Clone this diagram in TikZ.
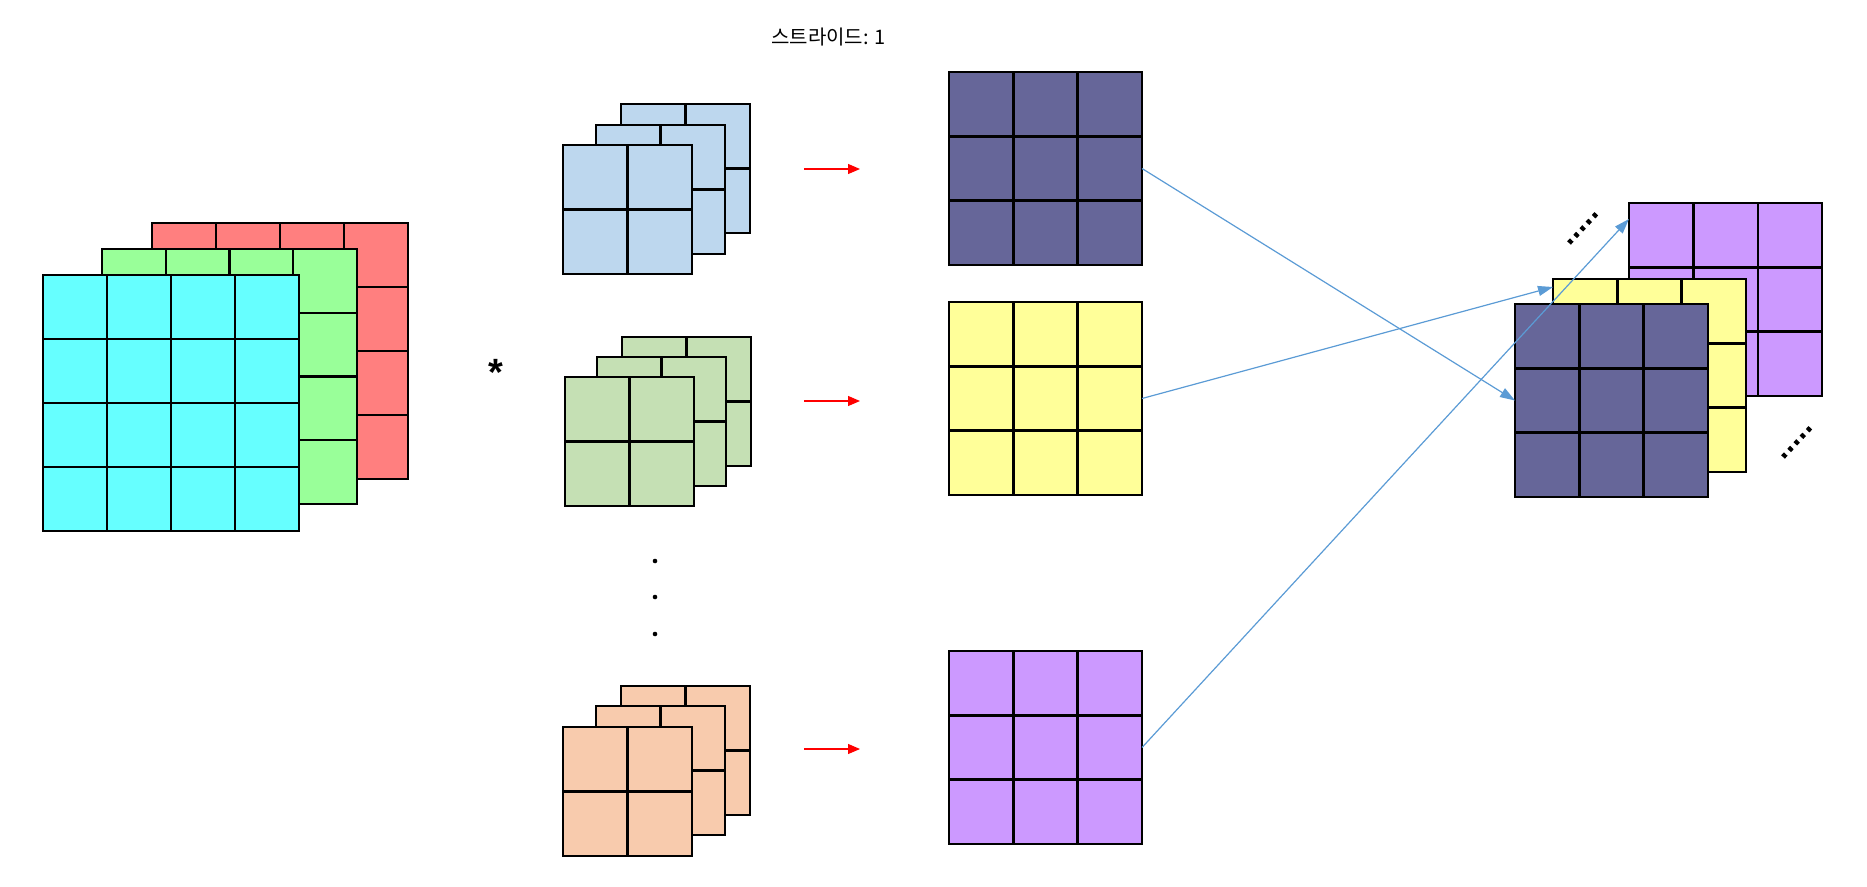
\documentclass[tikz,border=0pt]{standalone}
\usepackage{fontspec}
\newfontfamily\krfont{Noto Sans CJK KR}
\newfontfamily\arialfont{Liberation Sans}
\usetikzlibrary{calc,arrows.meta}
\definecolor{cyanf}{HTML}{66FFFF}
\definecolor{greenf}{HTML}{99FF99}
\definecolor{redf}{HTML}{FF7F7F}
\definecolor{kblue}{HTML}{BDD7EE}
\definecolor{kgreen}{HTML}{C5E0B4}
\definecolor{korange}{HTML}{F8CBAD}
\definecolor{fdark}{HTML}{666699}
\definecolor{fyellow}{HTML}{FFFF99}
\definecolor{fpurple}{HTML}{CC99FF}
\definecolor{arrowblue}{HTML}{5B9BD5}
\tikzset{
  cell/.style={draw=black, line width=2.4pt, inner sep=0pt, outer sep=0pt, anchor=north west},
  gl/.style={draw=black, line width=2.4pt},
  redarrow/.style={draw=red, line width=1.2pt, -{Triangle[length=12pt,width=10pt]}},
  bluearrow/.style={draw=arrowblue, line width=1.2pt, -{Triangle[length=15pt,width=10pt]}},
  dotmark/.style={line width=5pt, dash pattern=on 4pt off 5pt},
}
\newcommand{\gridnode}[6]{%
  \node[cell, fill=#5, minimum size=#4pt] (#1) at (#2,#3) {};
  \foreach \fr in {#6} {
    \draw[gl] ($(#1.north west)!\fr!(#1.north east)$) -- ($(#1.south west)!\fr!(#1.south east)$);
    \draw[gl] ($(#1.north west)!\fr!(#1.south west)$) -- ($(#1.north east)!\fr!(#1.south east)$);
  }%
}
\begin{document}
\begin{tikzpicture}[x=1pt, y=-1pt]
\useasboundingbox (0,0) rectangle (1867,886);
% input stack
\gridnode{inR}{152}{223}{256}{redf}{0.25,0.5,0.75}
\gridnode{inG}{102}{249}{255}{greenf}{0.25,0.5,0.75}
\gridnode{inC}{43}{275}{256}{cyanf}{0.25,0.5,0.75}
% asterisk
\node[font=\arialfont\bfseries\fontsize{38}{38}\selectfont] (star) at (496,372) {*};
% blue kernels
\gridnode{kb3}{621}{104}{129}{kblue}{0.5}
\gridnode{kb2}{596}{125}{129}{kblue}{0.5}
\gridnode{kb1}{563}{145}{129}{kblue}{0.5}
% green kernels
\gridnode{kg3}{622}{337}{129}{kgreen}{0.5}
\gridnode{kg2}{597}{357}{129}{kgreen}{0.5}
\gridnode{kg1}{565}{377}{129}{kgreen}{0.5}
% vertical dots
\fill (655,561) circle (2.3pt) (655,597) circle (2.3pt) (655,634) circle (2.3pt);
% orange kernels
\gridnode{ko3}{621}{686}{129}{korange}{0.5}
\gridnode{ko2}{596}{706}{129}{korange}{0.5}
\gridnode{ko1}{563}{727}{129}{korange}{0.5}
% title
\node[font=\krfont\fontsize{20}{22}\selectfont, anchor=base west, inner sep=0pt] (title) at (771,44) {스트라이드: 1};
% red arrows
\coordinate (r1s) at (804,169); \coordinate (r1e) at (860,169);
\coordinate (r2s) at (804,401); \coordinate (r2e) at (860,401);
\coordinate (r3s) at (804,749); \coordinate (r3e) at (860,749);
\draw[redarrow] (r1s) -- (r1e);
\draw[redarrow] (r2s) -- (r2e);
\draw[redarrow] (r3s) -- (r3e);
% feature maps
\gridnode{fm1}{949}{72}{193}{fdark}{0.3333,0.6667}
\gridnode{fm2}{949}{302}{193}{fyellow}{0.3333,0.6667}
\gridnode{fm3}{949}{651}{193}{fpurple}{0.3333,0.6667}
% output stack
\gridnode{outC}{1629}{203}{193}{fpurple}{0.3333,0.6667}
\gridnode{outB}{1553}{279}{193}{fyellow}{0.3333,0.6667}
\gridnode{outA}{1515}{304}{193}{fdark}{0.3333,0.6667}
% blue arrows
\draw[bluearrow] (fm1.east) -- (outA.west);
\draw[bluearrow] (fm2.east) -- ([yshift=-8pt]outB.north west);
\draw[bluearrow] (fm3.east) -- ([yshift=-16pt]outC.north west);
% dotted marks
\draw[dotmark] (1569,243) -- (1598,212);
\draw[dotmark] (1783,457) -- (1812,426);
\end{tikzpicture}
\end{document}
